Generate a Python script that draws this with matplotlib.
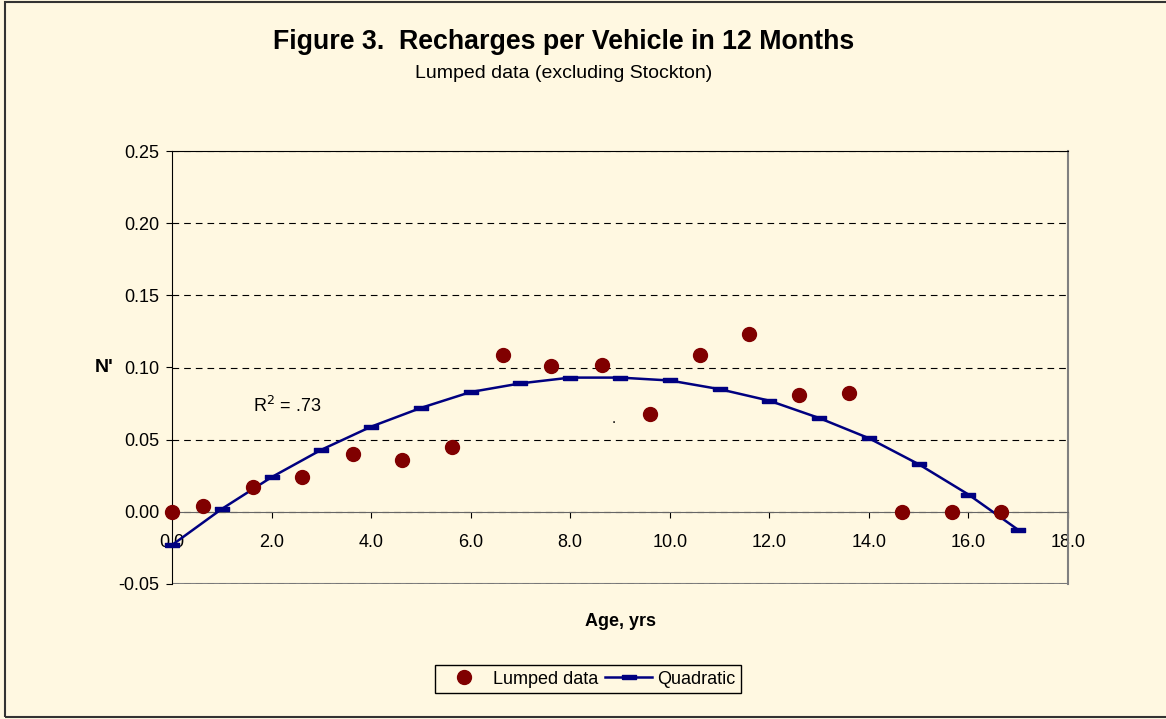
import matplotlib.pyplot as plt
from matplotlib.patches import Rectangle

plt.rcParams['font.family'] = ['Liberation Sans', 'DejaVu Sans']

# Lumped data points
lumped_age = [0.0, 0.63, 1.63, 2.62, 3.63, 4.63, 5.62, 6.65, 7.62, 8.63,
              9.6, 10.6, 11.59, 12.59, 13.6, 14.67, 15.66, 16.66]
lumped_n = [0.0, 0.004, 0.017, 0.024, 0.040, 0.036, 0.045, 0.109, 0.101, 0.102,
            0.068, 0.109, 0.123, 0.081, 0.082, 0.0, 0.0, 0.0]

# Quadratic fit curve
quad_age = list(range(18))
quad_n = [-0.023, 0.002, 0.024, 0.043, 0.059, 0.072, 0.083, 0.089, 0.093, 0.093,
          0.091, 0.085, 0.077, 0.065, 0.051, 0.033, 0.012, -0.0125]

x_ticks = [0, 2, 4, 6, 8, 10, 12, 14, 16, 18]
y_ticks = [-0.05, 0.0, 0.05, 0.10, 0.15, 0.20, 0.25]

bg = '#FFF8E1'
fig = plt.figure(figsize=(11.66, 7.19), dpi=100, facecolor=bg)
ax = fig.add_axes([172/1166, 1-584/719, (1068-172)/1166, (584-151)/719])
ax.set_facecolor(bg)

dash = [(-1, -0.35), (1, -0.35), (1, 0.35), (-1, 0.35), (-1, -0.35)]
ax.plot(lumped_age, lumped_n, ls='none', marker='o', ms=10, color='#800000',
        label='Lumped data', zorder=4, clip_on=False)
ax.plot(quad_age, quad_n, color='#000080', lw=1.8, marker=dash, ms=9.5,
        label='Quadratic', zorder=3, clip_on=False)

ax.set_xlim(0, 18)
ax.set_ylim(-0.05, 0.25)
ax.set_xticks(x_ticks)
ax.set_xticklabels(['%.1f' % v for v in x_ticks])
ax.set_yticks(y_ticks)
ax.set_yticklabels(['%.2f' % v for v in y_ticks])

ax.spines['bottom'].set_position(('data', 0))
ax.spines['bottom'].set_color('#666666')
ax.spines['left'].set_color('black')
ax.spines['top'].set_color('black')
ax.spines['right'].set_color('#808080')
ax.spines['right'].set_linewidth(1.5)
ax.axhline(-0.05, color='#808080', lw=1.5, zorder=0.4)

ax.set_axisbelow(True)
ax.yaxis.grid(True, color='black', ls=(0, (6, 4.5)), lw=0.8)

ax.tick_params(axis='both', labelsize=13, direction='out', length=4, color='black')
ax.tick_params(axis='x', pad=12)
ax.tick_params(axis='y', pad=5)

ax.text(2.31, 0.0735, 'R$^2$ = .73', fontsize=13, ha='center', va='center')
ax.text(8.88, 0.0595, '.', fontsize=11, ha='center', va='bottom')

fig.text(564/1166, 1-42/719, 'Figure 3.  Recharges per Vehicle in 12 Months',
         fontsize=19.3, fontweight='bold', ha='center', va='center')
fig.text(564/1166, 1-74/719, 'Lumped data (excluding Stockton)',
         fontsize=14, ha='center', va='center')
fig.text(620/1166, 1-621/719, 'Age, yrs', fontsize=13, fontweight='bold',
         ha='center', va='center')
fig.text(104/1166, 1-367/719, "N'", fontsize=14, fontweight='bold',
         ha='center', va='center')

leg = fig.legend(loc='center', bbox_to_anchor=(588/1166, 1-679/719), ncol=2,
                 fontsize=13, frameon=True, fancybox=False, edgecolor='black',
                 facecolor=bg, framealpha=1, handlelength=2.6,
                 handletextpad=0.3, columnspacing=0.4, borderpad=0.3)
leg.get_frame().set_linewidth(1)

fig.add_artist(Rectangle((5/1166, 2/719), 1.0, 715/719, transform=fig.transFigure,
                         fill=False, edgecolor='#333333', lw=1.5))

fig.savefig('out.png', dpi=100, facecolor=bg)
